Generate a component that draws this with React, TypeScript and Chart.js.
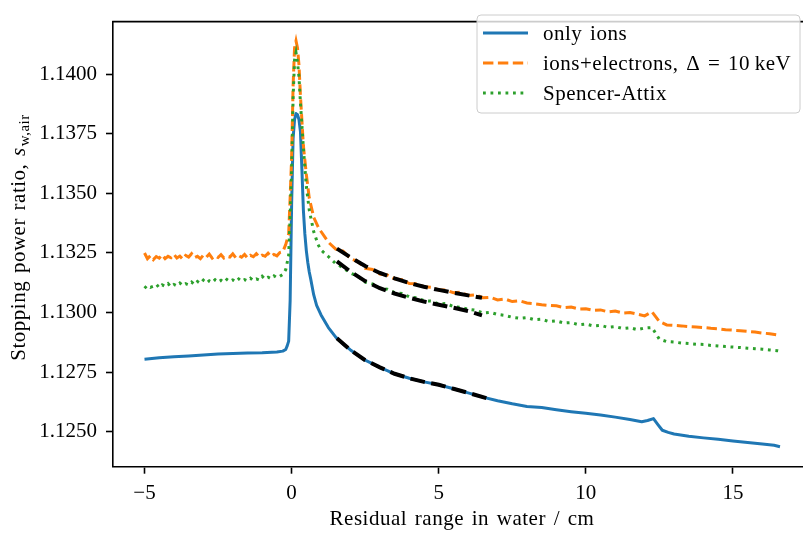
import React, { useEffect, useRef } from "react";
import { Chart, registerables } from "chart.js";

Chart.register(...registerables);

const FONT = '"Liberation Serif", "Times New Roman", serif';

// Shared x grid (cm) for the two noisy series
const gridX = [
  -5, -4.9, -4.8, -4.7, -4.6, -4.5, -4.4, -4.3, -4.2, -4.1,
  -4, -3.9, -3.8, -3.7, -3.6, -3.5, -3.4, -3.3, -3.2, -3.1,
  -3, -2.9, -2.8, -2.7, -2.6, -2.5, -2.4, -2.3, -2.2, -2.1,
  -2, -1.9, -1.8, -1.7, -1.6, -1.5, -1.4, -1.3, -1.2, -1.1,
  -1, -0.9, -0.8, -0.7, -0.6, -0.5, -0.4,
  -0.3, -0.2, -0.1, -0.05, 0, 0.05, 0.1, 0.15, 0.2, 0.25, 0.3, 0.4, 0.5, 0.6, 0.75, 0.9, 1.0,
  1.25, 1.5, 1.75, 2.0, 2.25, 2.5, 2.75, 3.0, 3.25, 3.5, 3.75, 4.0, 4.25, 4.5, 4.75, 5.0, 5.25, 5.5, 5.75, 6.0,
  6.25, 6.5, 6.75, 7.0, 7.25, 7.5, 7.75, 8.0, 8.25, 8.5, 8.75, 9.0, 9.25, 9.5, 9.75, 10.0, 10.25, 10.5, 10.75,
  11.0, 11.25, 11.5, 11.75, 12.0, 12.25, 12.5, 12.75, 13.0, 13.25, 13.5, 13.75, 14.0, 14.25, 14.5, 14.75, 15.0,
  15.25, 15.5, 15.75, 16.0, 16.25, 16.5, 16.6,
];

const ionsElectrons = [
  1.1325, 1.13226, 1.13238, 1.13222, 1.13235, 1.13228, 1.13242, 1.13226, 1.13236, 1.1323,
  1.13244, 1.13229, 1.13237, 1.13224, 1.1324, 1.13233, 1.13247, 1.1323, 1.13236, 1.13226,
  1.13241, 1.13232, 1.13245, 1.13228, 1.13238, 1.13231, 1.13243, 1.13229, 1.13236, 1.13233,
  1.13246, 1.1323, 1.13239, 1.13232, 1.13244, 1.13229, 1.1324, 1.13234, 1.13247, 1.13233,
  1.13241, 1.13236, 1.13249, 1.13235, 1.13244, 1.13238, 1.13252,
  1.13255, 1.13285, 1.1333, 1.13483, 1.1365, 1.1395, 1.1411, 1.1414, 1.1411, 1.1404, 1.1391, 1.137, 1.1358, 1.1348, 1.134, 1.1336, 1.1334,
  1.13295, 1.13266, 1.13258, 1.13226, 1.13214, 1.13186, 1.13181, 1.13162, 1.13158, 1.13142, 1.13138, 1.13122, 1.13121, 1.13108, 1.13106, 1.13095, 1.13094, 1.13083, 1.13085, 1.13072,
  1.13074, 1.13062, 1.13064, 1.13053, 1.13057, 1.13046, 1.13049, 1.1304, 1.13037, 1.13033, 1.1303, 1.13028, 1.13021, 1.13023, 1.13015, 1.13016, 1.13009, 1.13011, 1.13003,
  1.13006, 1.12998, 1.13, 1.12993, 1.12986, 1.13003, 1.12962, 1.12948, 1.12946, 1.12944, 1.12941, 1.12939, 1.12937, 1.12934, 1.12932, 1.12928, 1.12926,
  1.12924, 1.12921, 1.12918, 1.12914, 1.12911, 1.12906, 1.12902,
];

const spencerAttix = [
  1.13102, 1.13114, 1.13106, 1.13111, 1.13119, 1.13104, 1.13116, 1.1311, 1.13121, 1.13108,
  1.13118, 1.13112, 1.13124, 1.13113, 1.13121, 1.13116, 1.13128, 1.13117, 1.1313, 1.13122,
  1.13136, 1.13124, 1.13133, 1.13126, 1.13138, 1.13128, 1.13135, 1.13127, 1.13139, 1.1313,
  1.13137, 1.13129, 1.13141, 1.13131, 1.13138, 1.13133, 1.13144, 1.13134, 1.13141, 1.13136,
  1.13152, 1.1314, 1.13148, 1.13142, 1.13154, 1.13146, 1.13152,
  1.1316, 1.1318, 1.1324, 1.134, 1.136, 1.139, 1.1406, 1.1409, 1.1405, 1.1399, 1.1388, 1.1369, 1.1353, 1.1343, 1.1334, 1.13285, 1.13262,
  1.13235, 1.13205, 1.13188, 1.13166, 1.13152, 1.13128, 1.1312, 1.13102, 1.13098, 1.13084, 1.1308, 1.13066, 1.13062, 1.1305, 1.13048, 1.13036, 1.13038, 1.13025, 1.13022, 1.13014,
  1.1301, 1.12998, 1.13001, 1.12992, 1.12988, 1.1298, 1.12976, 1.12979, 1.1297, 1.12972, 1.12962, 1.12965, 1.12956, 1.12958, 1.12949, 1.12952, 1.12944, 1.12946, 1.12938,
  1.12941, 1.12933, 1.12936, 1.12928, 1.12935, 1.12937, 1.12888, 1.12878, 1.12876, 1.12872, 1.1287, 1.12867, 1.12866, 1.12862, 1.1286, 1.12857, 1.12855,
  1.12853, 1.1285, 1.12848, 1.12846, 1.12843, 1.1284, 1.12838,
];

const ionsX = [
  -5, -4.5, -4, -3.5, -3, -2.5, -2, -1.5, -1, -0.5, -0.3, -0.2, -0.15, -0.1, -0.05, 0, 0.05, 0.1, 0.15, 0.2, 0.25,
  0.3, 0.35, 0.4, 0.45, 0.5, 0.55, 0.6, 0.65, 0.75, 0.85, 1.0, 1.25, 1.5, 1.75, 2.0, 2.5, 3.0, 3.5, 4.0, 4.5, 5.0, 5.5, 6.0, 6.5, 7.0, 7.5,
  8.0, 8.5, 9.0, 9.5, 10.0, 10.5, 11.0, 11.5, 11.9, 12.1, 12.3, 12.45, 12.6, 12.8, 13.0, 13.5, 14.0, 14.5, 15.0,
  15.5, 16.0, 16.4, 16.6,
];
const onlyIons = [
  1.12804, 1.1281, 1.12814, 1.12818, 1.12822, 1.12826, 1.12828, 1.1283, 1.12831, 1.12834, 1.12838, 1.12845, 1.1286, 1.1288, 1.1305, 1.1345, 1.1373, 1.1381, 1.13835, 1.1383, 1.1381,
  1.1376, 1.136, 1.1343, 1.1333, 1.1326, 1.1321, 1.1317, 1.1314, 1.13075, 1.1303, 1.1299, 1.12937, 1.12897, 1.12868, 1.12843, 1.128, 1.1277, 1.12743, 1.12724, 1.12709, 1.12697, 1.1268, 1.12663, 1.12645, 1.1263, 1.12617,
  1.12606, 1.12601, 1.12592, 1.12584, 1.12577, 1.1257, 1.12561, 1.12551, 1.12542, 1.12547, 1.12555, 1.1253, 1.12506, 1.12497, 1.1249, 1.12481, 1.12474, 1.12468, 1.12461,
  1.12455, 1.12448, 1.12443, 1.12437,
];

// Black dashed fits
const fitX = [1.54, 2, 2.5, 3, 3.5, 4, 4.5, 5, 5.5, 6, 6.47];
const fitIonsElectrons = [1.13268, 1.13232, 1.13195, 1.13166, 1.13143, 1.13124, 1.13108, 1.13095, 1.13083, 1.13072, 1.13062];
const fitSpencerAttix = [1.13215, 1.13172, 1.13132, 1.13102, 1.1308, 1.13062, 1.13046, 1.13033, 1.1302, 1.13006, 1.12988];
const fitIonsX = [1.54, 2, 2.5, 3, 3.5, 4, 4.5, 5, 5.5, 6, 6.62];
const fitOnlyIons = [1.12892, 1.12843, 1.128, 1.1277, 1.12743, 1.12724, 1.12709, 1.12697, 1.1268, 1.12663, 1.12641];

const xTicks = [-5, 0, 5, 10, 15];
const yTicks = [1.125, 1.1275, 1.13, 1.1325, 1.135, 1.1375, 1.14];
const legendLabels = ["only ions", "ions+electrons, \u0394 = 10\u2009keV", "Spencer-Attix"];
const xTitle = "Residual range in water / cm";
const yTitleMain = "Stopping power ratio, ";

const pts = (xs: number[], ys: number[]) => xs.map((x, i) => ({ x, y: ys[i] }));

const LW = 3;

const decorPlugin = {
  id: "decor",
  afterDraw(chart: any) {
    const { ctx, chartArea: a } = chart;
    ctx.save();
    // top spine
    ctx.strokeStyle = "#000";
    ctx.lineWidth = 1.6;
    ctx.beginPath();
    ctx.moveTo(a.left - 0.8, a.top);
    ctx.lineTo(a.right + 2, a.top);
    ctx.stroke();

    // legend
    const bx = 477, by = 15, bw = 323, bh = 98, r = 4;
    ctx.beginPath();
    ctx.moveTo(bx + r, by);
    ctx.lineTo(bx + bw - r, by);
    ctx.quadraticCurveTo(bx + bw, by, bx + bw, by + r);
    ctx.lineTo(bx + bw, by + bh - r);
    ctx.quadraticCurveTo(bx + bw, by + bh, bx + bw - r, by + bh);
    ctx.lineTo(bx + r, by + bh);
    ctx.quadraticCurveTo(bx, by + bh, bx, by + bh - r);
    ctx.lineTo(bx, by + r);
    ctx.quadraticCurveTo(bx, by, bx + r, by);
    ctx.closePath();
    ctx.fillStyle = "rgba(255,255,255,0.8)";
    ctx.fill();
    ctx.strokeStyle = "#cccccc";
    ctx.lineWidth = 1;
    ctx.stroke();

    const rows = [33, 63, 93];
    const colors = ["#1f77b4", "#ff7f0e", "#2ca02c"];
    const dashes = [[], [10.4, 4.5], [2.8, 4.7]];
    rows.forEach((y, i) => {
      ctx.beginPath();
      ctx.setLineDash(dashes[i]);
      ctx.strokeStyle = colors[i];
      ctx.lineWidth = LW;
      ctx.lineCap = "butt";
      ctx.moveTo(483, y);
      ctx.lineTo(528, y);
      ctx.stroke();
    });
    ctx.setLineDash([]);
    ctx.fillStyle = "#000";
    ctx.font = `21px ${FONT}`;
    (ctx as any).letterSpacing = "0.5px";
    (ctx as any).wordSpacing = "2px";
    ctx.textAlign = "left";
    ctx.textBaseline = "middle";
    rows.forEach((y, i) => ctx.fillText(legendLabels[i], 543, y + 1));

    // x title
    ctx.textAlign = "center";
    ctx.textBaseline = "alphabetic";
    ctx.fillText(xTitle, 462, 525);

    // y title (rotated)
    ctx.translate(25, 237.5);
    ctx.rotate(-Math.PI / 2);
    ctx.textAlign = "left";
    const wMain = ctx.measureText(yTitleMain).width;
    ctx.font = `italic 21px ${FONT}`;
    const wS = ctx.measureText("s").width;
    ctx.font = `15px ${FONT}`;
    const wSub = ctx.measureText("w,air").width;
    const total = wMain + wS + wSub + 1;
    let x0 = -total / 2;
    ctx.font = `21px ${FONT}`;
    ctx.fillText(yTitleMain, x0, 0);
    x0 += wMain;
    ctx.font = `italic 21px ${FONT}`;
    ctx.fillText("s", x0, 0);
    x0 += wS + 1;
    ctx.font = `15px ${FONT}`;
    ctx.fillText("w,air", x0, 4);
    ctx.restore();
  },
};

export default function App() {
  const ref = useRef<HTMLCanvasElement>(null);
  useEffect(() => {
    if (!ref.current) return;
    const tickFont = { family: FONT, size: 21 };
    const chart = new Chart(ref.current, {
      type: "line",
      data: {
        datasets: [
          { label: "fit1", data: pts(fitX, fitIonsElectrons), borderColor: "#000", borderWidth: 4, borderDash: [14.8, 6.4], order: 0 },
          { label: "fit2", data: pts(fitX, fitSpencerAttix), borderColor: "#000", borderWidth: 4, borderDash: [14.8, 6.4], order: 0 },
          { label: "fit3", data: pts(fitIonsX, fitOnlyIons), borderColor: "#000", borderWidth: 4, borderDash: [14.8, 6.4], order: 0 },
          { label: legendLabels[0], data: pts(ionsX, onlyIons), borderColor: "#1f77b4", borderWidth: LW, borderJoinStyle: "round", order: 3 },
          { label: legendLabels[1], data: pts(gridX, ionsElectrons), borderColor: "#ff7f0e", borderWidth: LW, borderDash: [10.4, 4.5], order: 2 },
          { label: legendLabels[2], data: pts(gridX, spencerAttix), borderColor: "#2ca02c", borderWidth: LW, borderDash: [2.8, 4.7], order: 1 },
        ] as any,
      },
      options: {
        animation: false,
        responsive: false,
        devicePixelRatio: 1,
        layout: { padding: { top: 4, left: 0, right: 0, bottom: 0 } },
        elements: { point: { radius: 0 }, line: { tension: 0, fill: false } },
        plugins: { legend: { display: false }, tooltip: { enabled: false }, title: { display: false } },
        scales: {
          x: {
            type: "linear",
            min: -6.071,
            max: 17.382,
            afterBuildTicks: (s: any) => { s.ticks = xTicks.map((v) => ({ value: v })); },
            afterFit: (s: any) => { s.height = 69.3; },
            ticks: {
              font: tickFont,
              color: "#000",
              padding: 7,
              maxRotation: 0,
              autoSkip: false,
              callback: (v: any) => (v < 0 ? "\u2212" + Math.abs(v) : String(v)),
            },
            grid: { drawOnChartArea: false, drawTicks: true, tickLength: 7, tickColor: "#000", tickWidth: 1.6 },
            border: { display: true, color: "#000", width: 1.6 },
          },
          y: {
            type: "linear",
            min: 1.12353,
            max: 1.14221,
            afterBuildTicks: (s: any) => { s.ticks = yTicks.map((v) => ({ value: v })); },
            afterFit: (s: any) => { s.width = 113; },
            ticks: {
              font: tickFont,
              color: "#000",
              padding: 9,
              autoSkip: false,
              callback: (v: any) => Number(v).toFixed(4),
            },
            grid: { drawOnChartArea: false, drawTicks: true, tickLength: 7, tickColor: "#000", tickWidth: 1.6 },
            border: { display: true, color: "#000", width: 1.6 },
          },
        },
      } as any,
      plugins: [decorPlugin],
    });
    return () => chart.destroy();
  }, []);
  return (
    <div style={{ position: "absolute", left: 0, top: 0, width: 803, height: 536, background: "#fff" }}>
      <canvas ref={ref} width={803} height={536} style={{ display: "block" }} />
    </div>
  );
}
